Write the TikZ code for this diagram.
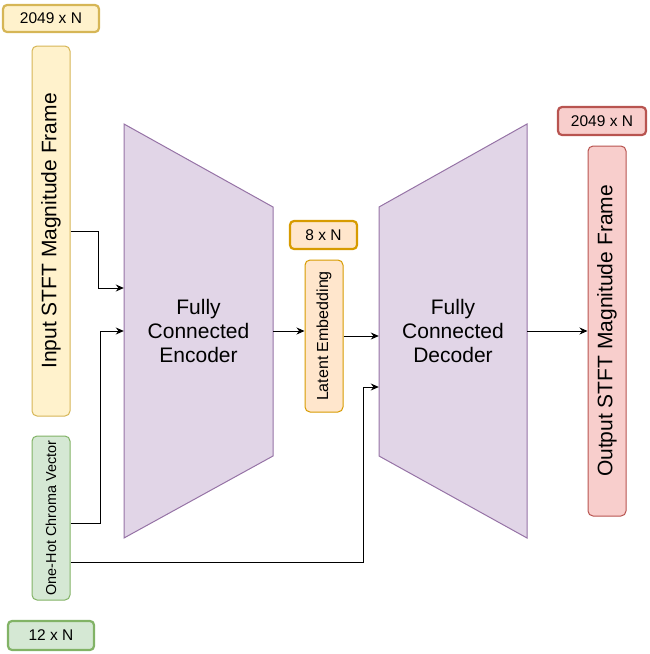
\documentclass[tikz,border=0pt]{standalone}
\usepackage{fontspec}
\setmainfont{Liberation Sans}
\usetikzlibrary{arrows.meta}
\definecolor{yfill}{HTML}{FFF2CC}\definecolor{ystroke}{HTML}{D6B656}
\definecolor{ofill}{HTML}{FFE6CC}\definecolor{ostroke}{HTML}{D79B00}
\definecolor{rfill}{HTML}{F8CECC}\definecolor{rstroke}{HTML}{B85450}
\definecolor{gfill}{HTML}{D5E8D4}\definecolor{gstroke}{HTML}{82B366}
\definecolor{pfill}{HTML}{E1D5E7}\definecolor{pstroke}{HTML}{9673A6}
\tikzset{
  box/.style={rounded corners=5pt, line width=1pt, inner sep=0pt, rotate=90, align=center},
  tag/.style={rounded corners=4pt, line width=2.2pt, inner sep=0pt, align=center, font=\fontsize{15.5}{18}\selectfont},
  big/.style={font=\fontsize{21}{24}\selectfont},
  arr/.style={line width=1pt, -{Stealth[length=8pt,width=7pt]}},
  trap/.style={fill=pfill, draw=pstroke, line width=1pt}
}
\begin{document}
\begin{tikzpicture}[x=1pt,y=-1pt]
\useasboundingbox (0,0) rectangle (650,654);
% trapezoids
\draw[trap] (124,124) -- (273,207) -- (273,456) -- (124,538) -- cycle;
\draw[trap] (379,207) -- (527,124) -- (527,538) -- (379,456) -- cycle;
\node[big, align=center, minimum width=149pt, minimum height=414pt, inner sep=0pt] (enc) at (198.5,331) {Fully\\Connected\\Encoder};
\node[big, align=center, minimum width=148pt, minimum height=414pt, inner sep=0pt] (dec) at (453,331) {Fully\\Connected\\Decoder};
% boxes
\node[box, big, fill=yfill, draw=ystroke, minimum width=370pt, minimum height=38pt] (in) at (51,231) {Input STFT Magnitude Frame};
\node[box, fill=gfill, draw=gstroke, minimum width=164pt, minimum height=38pt, font=\fontsize{14.4}{17}\selectfont] (oh) at (51,518) {One-Hot Chroma Vector};
\node[box, fill=ofill, draw=ostroke, minimum width=152pt, minimum height=38pt, font=\fontsize{16}{19}\selectfont] (lat) at (324,336) {Latent Embedding};
\node[box, big, fill=rfill, draw=rstroke, minimum width=370pt, minimum height=38pt] (out) at (607,331) {Output STFT Magnitude Frame};
% tags
\node[tag, fill=yfill, draw=ystroke, minimum width=96pt, minimum height=27pt] (t1) at (51,18.5) {2049 x N};
\node[tag, fill=ofill, draw=ostroke, minimum width=67pt, minimum height=28pt] (t2) at (323.5,235) {8 x N};
\node[tag, fill=rfill, draw=rstroke, minimum width=88pt, minimum height=28pt] (t3) at (602,121) {2049 x N};
\node[tag, fill=gfill, draw=gstroke, minimum width=86pt, minimum height=29pt] (t4) at (51,635.5) {12 x N};
% connectors
\draw[arr] (in.south) -| (98,288) coordinate (c1) -- (enc.west |- c1);
\draw[arr] (oh.south |- 0,523) -| (100,331) coordinate (c2) -- (enc.west |- c2);
\draw[arr] (oh.south |- 0,562) -| (363,387) coordinate (c3) -- (dec.west |- c3);
\draw[arr] (enc.east |- 0,331) -- (lat.north |- 0,331);
\draw[arr] (lat.south) -- (dec.west |- lat.south);
\draw[arr] (dec.east) -- (out.north);
\end{tikzpicture}
\end{document}
